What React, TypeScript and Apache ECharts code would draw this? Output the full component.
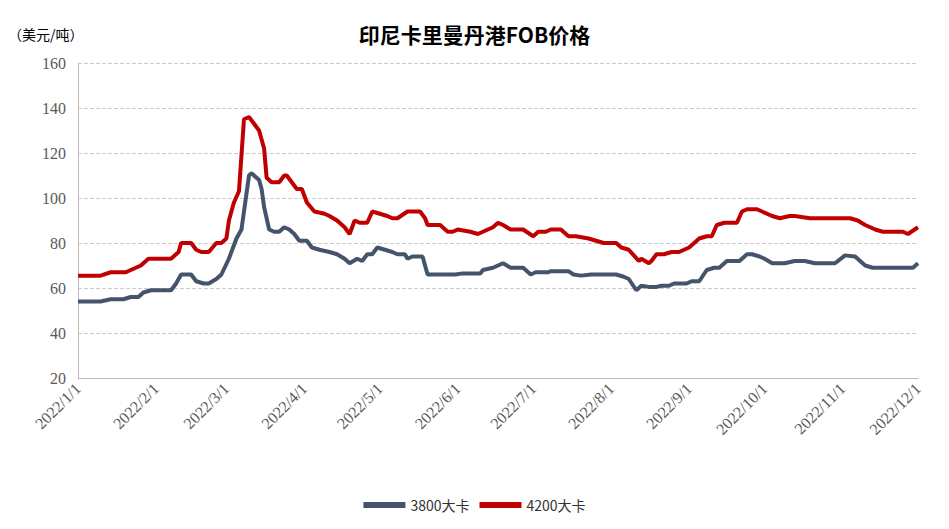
import { useEffect, useRef } from 'react';
import * as echarts from 'echarts';

// day offset from 2022/1/1, price
const coal3800: [number, number][] = [
  [0, 54], [9, 54], [13, 55], [18, 55], [21, 56], [24, 56], [26, 58], [29, 59], [37, 59], [39, 62],
  [41, 66], [45, 66], [47, 63], [50, 62], [52, 62], [55, 64], [57, 66], [60, 73], [63, 82], [65, 86],
  [68, 110], [69, 111], [72, 108], [73, 104], [74, 96], [76, 86], [78, 85], [80, 85], [82, 87], [84, 86],
  [86, 84], [88, 81], [91, 81], [93, 78], [96, 77], [100, 76], [103, 75], [106, 73], [108, 71], [111, 73],
  [113, 72], [115, 75], [117, 75], [119, 78], [122, 77], [125, 76], [127, 75], [130, 75], [131, 73], [133, 74],
  [137, 74], [139, 66], [144, 66], [150, 66], [153, 66.5], [160, 66.5], [161, 68], [165, 69], [167, 70], [169, 71],
  [172, 69], [177, 69], [180, 66], [182, 67], [187, 67], [188, 67.5], [195, 67.5], [197, 66], [200, 65.5], [204, 66],
  [214, 66], [217, 65], [219, 64], [222, 59], [224, 61], [227, 60.5], [230, 60.5], [232, 61], [235, 61], [237, 62],
  [242, 62], [244, 63], [247, 63], [250, 68], [253, 69], [255, 69], [258, 72], [263, 72], [266, 75], [268, 75],
  [271, 74], [273, 73], [276, 71], [281, 71], [285, 72], [289, 72], [293, 71], [298, 71], [301, 71], [305, 74.5],
  [309, 74], [313, 70], [316, 69], [330, 69], [332, 69], [334, 71],
];

const coal4200: [number, number][] = [
  [0, 65.5], [9, 65.5], [13, 67], [19, 67], [21, 68], [25, 70], [28, 73], [37, 73], [40, 76], [41, 80],
  [45, 80], [47, 77], [49, 76], [52, 76], [55, 80], [57, 80], [59, 82], [60, 90], [62, 98], [64, 103],
  [66, 135], [68, 136], [72, 130], [74, 122], [75, 109], [77, 107], [80, 107], [82, 110], [83, 110], [85, 107],
  [87, 104], [89, 104], [91, 98], [94, 94], [98, 93], [100, 92], [103, 90], [106, 87], [108, 84], [110, 90],
  [112, 89], [115, 89], [117, 94], [120, 93], [123, 92], [125, 91], [127, 91], [131, 94], [136, 94], [138, 91],
  [139, 88], [144, 88], [147, 85], [149, 85], [151, 86], [156, 85], [159, 84], [163, 86], [165, 87], [167, 89],
  [169, 88], [172, 86], [177, 86], [181, 83], [183, 85], [186, 85], [188, 86], [192, 86], [195, 83], [198, 83],
  [203, 82], [209, 80], [214, 80], [216, 78], [219, 77], [223, 72], [224, 73], [227, 71], [228, 72], [230, 75],
  [233, 75], [236, 76], [239, 76], [243, 78], [247, 82], [250, 83], [252, 83], [254, 88], [257, 89], [262, 89],
  [264, 94], [266, 95], [270, 95], [272, 94], [276, 92], [279, 91], [283, 92], [285, 92], [291, 91], [299, 91],
  [307, 91], [310, 90], [313, 88], [317, 86], [320, 85], [325, 85], [328, 85], [330, 84], [334, 87],
];

const start = new Date(2022, 0, 1);
const dates: string[] = [];
for (let i = 0; i <= 334; i++) {
  const d = new Date(start.getTime() + i * 86400000);
  dates.push(`${d.getFullYear()}/${d.getMonth() + 1}/${d.getDate()}`);
}

function toSeries(points: [number, number][]) {
  const arr: (number | null)[] = dates.map(() => null);
  points.forEach(([d, v]) => { arr[d] = v; });
  return arr;
}

const serif = 'Liberation Serif';

export default function App() {
  const ref = useRef<HTMLDivElement>(null);

  useEffect(() => {
    if (!ref.current) return;
    const chart = echarts.init(ref.current, null, { renderer: 'svg' });
    chart.setOption({
      animation: false,
      title: {
        text: '印尼卡里曼丹港FOB价格',
        left: 'center',
        top: 10,
        textStyle: { fontSize: 21, fontWeight: 'bold', color: '#000', fontFamily: 'Noto Sans CJK SC' },
      },
      graphic: [{
        type: 'text', left: 0, top: 19,
        style: { text: '（美元/吨）', fontSize: 14, fill: '#000', fontFamily: 'Noto Sans CJK SC' },
      }],
      legend: {
        bottom: 4,
        left: 'center',
        itemWidth: 42,
        itemHeight: 6,
        icon: 'rect',
        itemGap: 10,
        textStyle: { fontSize: 14, color: '#333', fontFamily: 'Noto Sans CJK SC' },
        data: ['3800大卡', '4200大卡'],
      },
      grid: { left: 70, right: 23, top: 55, bottom: 143 },
      xAxis: {
        type: 'category',
        data: dates,
        boundaryGap: false,
        axisLine: { lineStyle: { color: '#bbb' } },
        axisTick: { show: false },
        axisLabel: {
          rotate: 45,
          fontSize: 16,
          color: '#595959',
          fontFamily: serif,
          interval: (i: number, v: string) => v.split('/')[2] === '1',
          margin: 8,
        },
      },
      yAxis: {
        type: 'value',
        min: 20,
        max: 160,
        interval: 20,
        axisLine: { show: true, lineStyle: { color: '#bbb' } },
        axisLabel: { fontSize: 16, color: '#595959', fontFamily: serif, margin: 12 },
        splitLine: { lineStyle: { type: 'dashed', color: '#ccc' } },
      },
      series: [
        {
          name: '3800大卡', type: 'line', data: toSeries(coal3800), connectNulls: true,
          showSymbol: false, lineStyle: { width: 4, color: '#44546a' }, itemStyle: { color: '#44546a' },
        },
        {
          name: '4200大卡', type: 'line', data: toSeries(coal4200), connectNulls: true,
          showSymbol: false, lineStyle: { width: 4, color: '#c00000' }, itemStyle: { color: '#c00000' },
        },
      ],
    });
    return () => chart.dispose();
  }, []);

  return <div ref={ref} style={{ width: 933, height: 513 }} />;
}
